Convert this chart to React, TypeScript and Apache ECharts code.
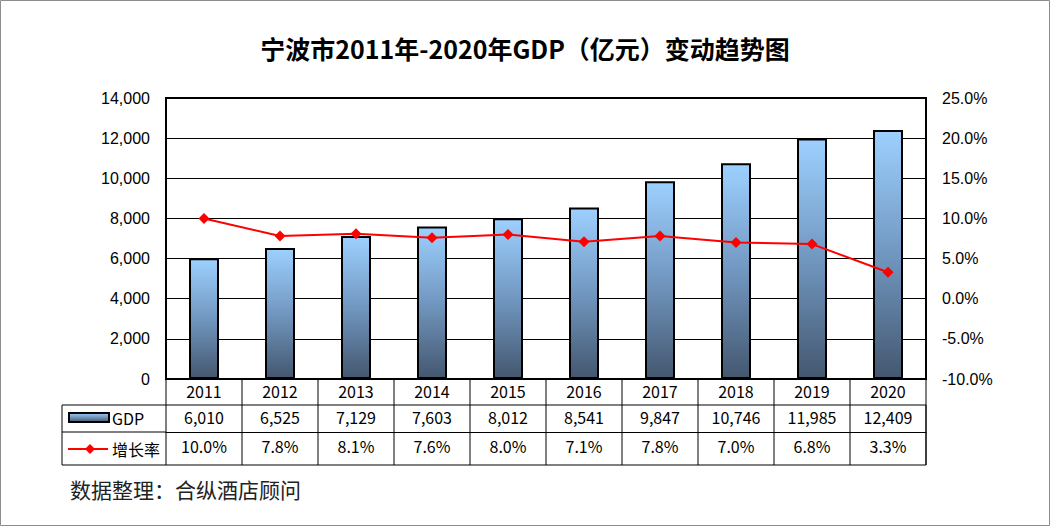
import React, { useEffect, useRef } from "react";
import * as echarts from "echarts";

const years = ["2011", "2012", "2013", "2014", "2015", "2016", "2017", "2018", "2019", "2020"];
const gdp = [6010, 6525, 7129, 7603, 8012, 8541, 9847, 10746, 11985, 12409];
const growth = [10.0, 7.8, 8.1, 7.6, 8.0, 7.1, 7.8, 7.0, 6.8, 3.3];
const titleText = "宁波市2011年-2020年GDP（亿元）变动趋势图";
const sourceText = "数据整理：合纵酒店顾问";
const seriesNames = ["GDP", "增长率"];

const CJK = "'Noto Sans CJK SC', 'Microsoft YaHei', sans-serif";
const NUM = "'Liberation Sans', Arial, sans-serif";

const GRID_L = 166;
const GRID_R = 926;
const ROW0 = 379;
const ROW1 = 405;
const ROW2 = 432;
const ROW3 = 465;

export default function App() {
  const ref = useRef<HTMLDivElement>(null);
  useEffect(() => {
    document.body.style.margin = "0";
    const chart = echarts.init(ref.current!, null, { renderer: "svg" });
    const barGrad = new echarts.graphic.LinearGradient(0, 0, 0, 1, [
      { offset: 0, color: "#9DD0FF" },
      { offset: 0.5, color: "#7197C0" },
      { offset: 1, color: "#44576F" },
    ]);
    const keyGrad = new echarts.graphic.LinearGradient(0, 0, 0, 1, [
      { offset: 0, color: "#9DD0FF" },
      { offset: 1, color: "#44576F" },
    ]);
    const fmt = (n: number) => n.toLocaleString("en-US");
    const n = years.length;
    const step = (GRID_R - GRID_L) / n;
    const dividers = Array.from({ length: n + 1 }, (_, i) => ({
      type: "line",
      shape: { x1: GRID_L + i * step, y1: ROW0, x2: GRID_L + i * step, y2: ROW3 },
      style: { stroke: "#000", lineWidth: 1 },
      silent: true,
    }));
    const tableAxis = (data: string[], offset: number, margin: number, lw: number) => ({
      type: "category",
      data,
      position: "bottom",
      offset,
      axisLine: { show: true, lineStyle: { color: "#000", width: lw } },
      axisTick: { show: false },
      axisLabel: { color: "#000", fontFamily: CJK, fontSize: 16, margin },
    });
    chart.setOption({
      animation: false,
      backgroundColor: "#fff",
      title: {
        text: titleText,
        left: "center",
        top: 30,
        textStyle: { fontFamily: CJK, fontSize: 25, fontWeight: "bold", color: "#000" },
      },
      grid: {
        left: GRID_L,
        right: 1050 - GRID_R,
        top: 98,
        bottom: 526 - ROW0,
        show: true,
        borderColor: "#000",
        borderWidth: 2,
        backgroundColor: "transparent",
      },
      xAxis: [
        tableAxis(years, 0, 4, 2),
        tableAxis(gdp.map(fmt), ROW1 - ROW0, 4, 1),
        tableAxis(growth.map((g) => g.toFixed(1) + "%"), ROW2 - ROW0, 6, 1),
      ],
      yAxis: [
        {
          type: "value",
          min: 0,
          max: 14000,
          interval: 2000,
          axisLine: { show: false },
          axisTick: { show: false },
          splitLine: { show: true, lineStyle: { color: "#000", width: 1 } },
          axisLabel: {
            color: "#000",
            fontFamily: NUM,
            fontSize: 16,
            margin: 16,
            formatter: (v: number) => fmt(v),
          },
        },
        {
          type: "value",
          min: -10,
          max: 25,
          interval: 5,
          position: "right",
          axisLine: { show: false },
          axisTick: { show: false },
          splitLine: { show: false },
          axisLabel: {
            color: "#000",
            fontFamily: NUM,
            fontSize: 16,
            margin: 16,
            formatter: (v: number) => v.toFixed(1) + "%",
          },
        },
      ],
      series: [
        {
          name: seriesNames[0],
          type: "bar",
          data: gdp,
          barWidth: 30,
          itemStyle: { color: barGrad, borderColor: "#000", borderWidth: 2 },
          z: 2,
        },
        {
          name: seriesNames[1],
          type: "line",
          yAxisIndex: 1,
          data: growth,
          symbol: "diamond",
          symbolSize: 11,
          itemStyle: { color: "#FF0000" },
          lineStyle: { color: "#FF0000", width: 2 },
          z: 5,
        },
      ],
      graphic: [
        {
          type: "rect",
          shape: { x: 0.5, y: 0.5, width: 1049, height: 525 },
          style: { fill: "none", stroke: "#8c8c8c", lineWidth: 1 },
          silent: true,
        },
        {
          type: "rect",
          shape: { x: 62, y: ROW1, width: GRID_R - 62, height: ROW3 - ROW1 },
          style: { fill: "none", stroke: "#000", lineWidth: 1 },
          silent: true,
        },
        {
          type: "line",
          shape: { x1: 62, y1: ROW2, x2: GRID_L, y2: ROW2 },
          style: { stroke: "#000", lineWidth: 1 },
          silent: true,
        },
        ...dividers,
        {
          type: "rect",
          shape: { x: 69, y: 413, width: 40, height: 9 },
          style: { fill: keyGrad, stroke: "#000", lineWidth: 2 },
          silent: true,
        },
        {
          type: "text",
          x: 112,
          y: 418,
          style: { text: seriesNames[0], fontFamily: CJK, fontSize: 16, fill: "#000", textVerticalAlign: "middle" },
          silent: true,
        },
        {
          type: "line",
          shape: { x1: 68, y1: 449, x2: 108, y2: 449 },
          style: { stroke: "#FF0000", lineWidth: 2 },
          silent: true,
        },
        {
          type: "polygon",
          shape: { points: [[90, 444], [95, 449], [90, 454], [85, 449]] },
          style: { fill: "#FF0000" },
          silent: true,
        },
        {
          type: "text",
          x: 112,
          y: 449,
          style: { text: seriesNames[1], fontFamily: CJK, fontSize: 16, fill: "#000", textVerticalAlign: "middle" },
          silent: true,
        },
        {
          type: "text",
          x: 70,
          y: 489,
          style: { text: sourceText, fontFamily: CJK, fontSize: 21, fill: "#222", textVerticalAlign: "middle" },
          silent: true,
        },
      ],
    });
    return () => chart.dispose();
  }, []);
  return <div ref={ref} style={{ width: 1050, height: 526 }} />;
}
